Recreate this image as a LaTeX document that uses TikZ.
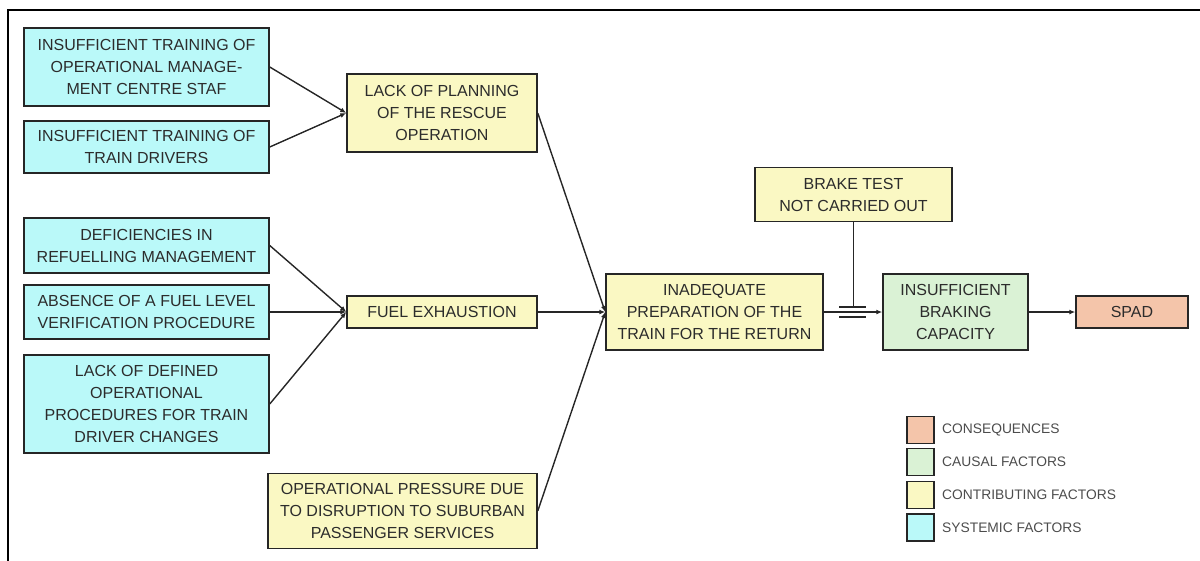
\documentclass[tikz,border=0pt]{standalone}
\usepackage{fontspec}
\setmainfont{Liberation Sans}
\usetikzlibrary{arrows.meta}
\definecolor{syscol}{HTML}{BAF9F9}
\definecolor{concol}{HTML}{FAF8C3}
\definecolor{caucol}{HTML}{DAF2D5}
\definecolor{seqcol}{HTML}{F4C5AA}
\definecolor{edgecol}{HTML}{262626}
\definecolor{txtcol}{HTML}{2C2C2C}
\tikzset{
  fbox/.style={draw=edgecol, line width=1.5pt, align=center, inner sep=0pt,
    text=txtcol, font=\fontsize{16}{22}\selectfont},
  sysbox/.style={fbox, fill=syscol},
  conbox/.style={fbox, fill=concol},
  caubox/.style={fbox, fill=caucol},
  seqbox/.style={fbox, fill=seqcol},
  link/.style={draw=edgecol, line width=1.4pt, -{Latex[length=6pt,width=5pt]}},
  plainlink/.style={draw=edgecol, line width=1.4pt},
  legsq/.style={draw=edgecol, line width=1.5pt, minimum width=27pt, minimum height=27pt, inner sep=0pt},
  legtxt/.style={anchor=west, text=txtcol!85, inner sep=0pt, font=\fontsize{13.8}{15}\selectfont}
}
\begin{document}
\begin{tikzpicture}[x=1pt,y=-1pt]
\useasboundingbox (0,0) rectangle (1200,560);
\draw[line width=2pt, black] (8,10) rectangle (1215,575);

% systemic factors
\node[sysbox, minimum width=245pt, minimum height=78pt] (s1) at (146.5,67) {INSUFFICIENT TRAINING OF\\OPERATIONAL MANAGE-\\MENT CENTRE STAF};
\node[sysbox, minimum width=245pt, minimum height=52pt] (s2) at (146.5,147) {INSUFFICIENT TRAINING OF\\TRAIN DRIVERS};
\node[sysbox, minimum width=245pt, minimum height=55pt] (s3) at (146.5,245.5) {DEFICIENCIES IN\\REFUELLING MANAGEMENT};
\node[sysbox, minimum width=245pt, minimum height=54pt] (s4) at (146.5,312) {ABSENCE OF A FUEL LEVEL\\VERIFICATION PROCEDURE};
\node[sysbox, minimum width=245pt, minimum height=98pt] (s5) at (146.5,404) {LACK OF DEFINED\\OPERATIONAL\\PROCEDURES FOR TRAIN\\DRIVER CHANGES};

% contributing factors
\node[conbox, minimum width=190pt, minimum height=78pt] (plan) at (442,113) {LACK OF PLANNING\\OF THE RESCUE\\OPERATION};
\node[conbox, minimum width=190pt, minimum height=32pt] (fuel) at (442,312) {FUEL EXHAUSTION};
\node[conbox, minimum width=269pt, minimum height=75pt] (press) at (402.5,511) {OPERATIONAL PRESSURE DUE\\TO DISRUPTION TO SUBURBAN\\PASSENGER SERVICES};
\node[conbox, minimum width=217pt, minimum height=76pt] (prep) at (714.5,312) {INADEQUATE\\PREPARATION OF THE\\TRAIN FOR THE RETURN};
\node[conbox, minimum width=197pt, minimum height=54pt] (brake) at (853.5,194.5) {BRAKE TEST\\NOT CARRIED OUT};

% causal factor and consequence
\node[caubox, minimum width=145pt, minimum height=76pt] (cap) at (955.5,312) {INSUFFICIENT\\BRAKING\\CAPACITY};
\node[seqbox, minimum width=112pt, minimum height=32pt] (spad) at (1132,312) {SPAD};

% connectors
\draw[link] (s1.east) -- (plan.west);
\draw[link] (s2.east) -- (plan.west);
\draw[link] (s3.east) -- (fuel.west);
\draw[link] (s4.east) -- (fuel.west);
\draw[link] (s5.east) -- (fuel.west);
\draw[link] (plan.east) -- (prep.west);
\draw[link] (fuel.east) -- (prep.west);
\draw[link] (press.east) -- (prep.west);
\draw[link] (prep.east) -- (cap.west);
\draw[link] (cap.east) -- (spad.west);

% junction of brake test
\coordinate (jtop) at (brake.south |- 0,307);
\coordinate (barAl) at (839,307);
\coordinate (barAr) at (866,307);
\coordinate (barBl) at (839,317);
\coordinate (barBr) at (866,317);
\draw[plainlink] (brake.south) -- (jtop);
\draw[plainlink] (barAl) -- (barAr);
\draw[plainlink] (barBl) -- (barBr);

% legend
\node[legsq, fill=seqcol] (lq1) at (920.5,430) {};
\node[legsq, fill=caucol] (lq2) at (920.5,462) {};
\node[legsq, fill=concol] (lq3) at (920.5,495) {};
\node[legsq, fill=syscol] (lq4) at (920.5,527.5) {};
\node[legtxt] (lt1) at (942,430) {CONSEQUENCES};
\node[legtxt] (lt2) at (942,462) {CAUSAL FACTORS};
\node[legtxt] (lt3) at (942,495) {CONTRIBUTING FACTORS};
\node[legtxt] (lt4) at (942,527.5) {SYSTEMIC FACTORS};
\end{tikzpicture}
\end{document}
